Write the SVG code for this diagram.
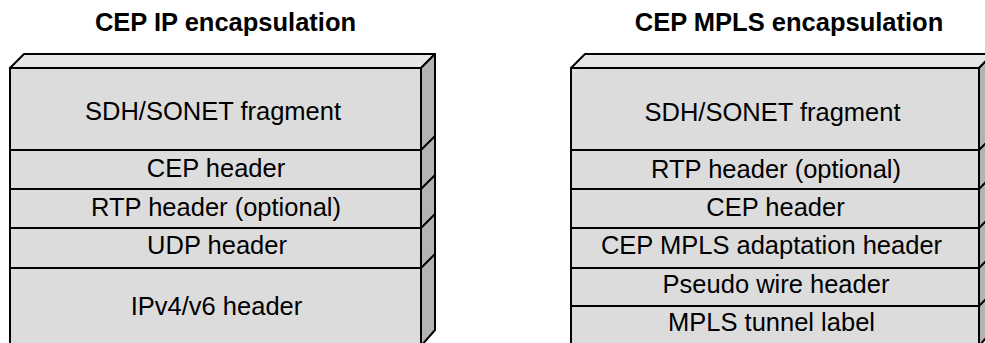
<svg xmlns="http://www.w3.org/2000/svg" width="985" height="343" viewBox="0 0 985 343">
  <style>
    .title { font-family: "Liberation Sans", Arial, sans-serif; font-weight: bold; font-size: 25.5px; fill: #000; text-anchor: middle; }
    .label { font-family: "Liberation Sans", Arial, sans-serif; font-size: 25.5px; fill: #000; text-anchor: middle; }
    .front { fill: #dcdcdc; stroke: #000; stroke-width: 2; }
    .top { fill: #e6e6e6; stroke: #000; stroke-width: 2; stroke-linejoin: round; }
    .side { fill: #b3b3b3; stroke: #000; stroke-width: 2; stroke-linejoin: round; }
    .edge { stroke: #000; stroke-width: 2; fill: none; }
  </style>

  <rect width="985" height="343" fill="#fff"/>

  <!-- IP encapsulation stack -->
  <g id="ip-stack">
    <text class="title" x="225.5" y="31">CEP IP encapsulation</text>
    <polygon class="top" points="10,68 24,54 435,54 421,68"/>
    <polygon class="side" points="421,68 435,54 435,330 421,346"/>
    <g id="ip-sdh">
      <rect class="front" x="10" y="68" width="411" height="82"/>
      <text class="label" x="213" y="120">SDH/SONET fragment</text>
    </g>
    <g id="ip-cep">
      <rect class="front" x="10" y="150" width="411" height="39"/>
      <text class="label" x="216" y="177">CEP header</text>
    </g>
    <g id="ip-rtp">
      <rect class="front" x="10" y="189" width="411" height="39"/>
      <text class="label" x="216" y="216">RTP header (optional)</text>
    </g>
    <g id="ip-udp">
      <rect class="front" x="10" y="228" width="411" height="40"/>
      <text class="label" x="217" y="254">UDP header</text>
    </g>
    <g id="ip-ip">
      <rect class="front" x="10" y="268" width="411" height="78"/>
      <text class="label" x="216.5" y="315">IPv4/v6 header</text>
    </g>
    <path class="edge" d="M421,150 L435,136 M421,189 L435,175 M421,228 L435,214 M421,268 L435,254"/>
  </g>

  <!-- MPLS encapsulation stack -->
  <g id="mpls-stack">
    <text class="title" x="789" y="31">CEP MPLS encapsulation</text>
    <polygon class="top" points="571,68 585,54 993,54 979,68"/>
    <polygon class="side" points="979,68 993,54 993,330 979,346"/>
    <g id="mpls-sdh">
      <rect class="front" x="571" y="68" width="408" height="82"/>
      <text class="label" x="772.5" y="121">SDH/SONET fragment</text>
    </g>
    <g id="mpls-rtp">
      <rect class="front" x="571" y="150" width="408" height="39"/>
      <text class="label" x="776" y="178">RTP header (optional)</text>
    </g>
    <g id="mpls-cep">
      <rect class="front" x="571" y="189" width="408" height="39"/>
      <text class="label" x="775.5" y="216">CEP header</text>
    </g>
    <g id="mpls-adapt">
      <rect class="front" x="571" y="228" width="408" height="40"/>
      <text class="label" x="771.5" y="254">CEP MPLS adaptation header</text>
    </g>
    <g id="mpls-pw">
      <rect class="front" x="571" y="268" width="408" height="38"/>
      <text class="label" x="776" y="293">Pseudo wire header</text>
    </g>
    <g id="mpls-tunnel">
      <rect class="front" x="571" y="306" width="408" height="40"/>
      <text class="label" x="771.5" y="331">MPLS tunnel label</text>
    </g>
    <path class="edge" d="M979,150 L993,136 M979,189 L993,175 M979,228 L993,214 M979,268 L993,254 M979,306 L993,292"/>
  </g>
</svg>
